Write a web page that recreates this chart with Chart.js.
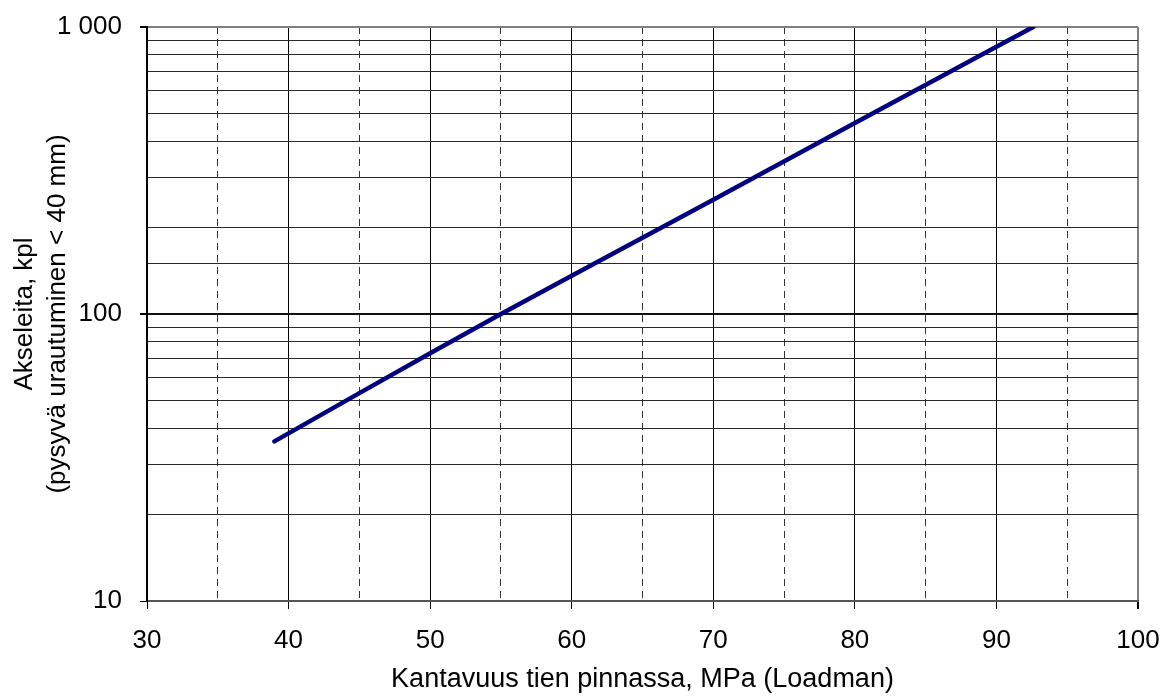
<!DOCTYPE html>
<html>
<head>
<meta charset="utf-8">
<script src="https://cdn.jsdelivr.net/npm/chart.js@4/dist/chart.umd.min.js"></script>
<style>
  body { margin: 0; background: #fff; }
  canvas { display: block; }
</style>
</head>
<body>
<canvas id="myChart" width="1162" height="700"></canvas>
<script>
// values
const bearingMPa = [39, 45, 50, 55, 60, 70, 80, 90, 92.6];
const axles = [36, 53, 73, 100, 136, 250, 463, 853, 1000];
const xTitle = 'Kantavuus tien pinnassa, MPa (Loadman)';
const yTitle = ['Akseleita, kpl', '(pysyvä urautuminen < 40 mm)'];
const yLabels = { 10: '10', 100: '100', 1000: '1 000' };

Chart.defaults.font.family = '"Liberation Sans", Arial, sans-serif';
Chart.defaults.color = '#000';

const ctx = document.getElementById('myChart').getContext('2d');

new Chart(ctx, {
  type: 'scatter',
  data: {
    datasets: [
      {
        data: bearingMPa.map((x, i) => ({ x: x, y: axles[i] })),
        showLine: true,
        borderColor: '#000080',
        borderWidth: 4.5,
        borderCapStyle: 'round',
        pointRadius: 0,
        tension: 0,
      },
    ],
  },
  options: {
    responsive: false,
    animation: false,
    devicePixelRatio: 1,
    layout: { padding: { left: 0, right: 24, top: 27, bottom: 0 } },
    plugins: { legend: { display: false }, tooltip: { enabled: false } },
    scales: {
      x: {
        type: 'linear',
        min: 30,
        max: 100,
        afterFit: (scale) => {
          scale.height = 99;
          scale.paddingLeft = 0;
          scale.paddingRight = 0;
        },
        ticks: {
          stepSize: 5,
          autoSkip: false,
          maxRotation: 0,
          padding: 16,
          font: { size: 26 },
          callback: (v) => (v % 10 === 0 ? String(v) : ''),
        },
        grid: {
          tickLength: 8,
          color: (c) => {
            const v = c.tick && c.tick.value;
            if (v === 100) return '#808080';
            return v % 10 === 0 ? '#000' : '#333';
          },
          lineWidth: (c) => (c.tick && c.tick.value === 100 ? 2 : 1),
          tickColor: (c) => (c.tick && c.tick.value % 10 === 0 ? '#000' : 'rgba(0,0,0,0)'),
        },
        border: {
          color: '#555',
          width: 2,
          dash: (c) => (c.tick && c.tick.value % 10 !== 0 ? [7, 5] : []),
        },
        title: {
          display: true,
          text: xTitle,
          font: { size: 27 },
          padding: { top: 0, bottom: 4 },
        },
      },
      y: {
        type: 'logarithmic',
        min: 10,
        max: 1000,
        afterFit: (scale) => {
          scale.width = 147;
          scale.paddingTop = 0;
          scale.paddingBottom = 0;
        },
        ticks: {
          autoSkip: false,
          padding: 18,
          font: { size: 26 },
          callback: (v) => yLabels[v] || '',
        },
        grid: {
          tickLength: 7,
          color: (c) => {
            const v = c.tick && c.tick.value;
            if (v === 1000) return '#808080';
            return v === 100 ? '#111' : '#2a2a2a';
          },
          lineWidth: (c) => {
            const v = c.tick && c.tick.value;
            return v === 100 || v === 1000 ? 2 : 1;
          },
          tickColor: (c) => (c.tick && yLabels[c.tick.value] ? '#000' : 'rgba(0,0,0,0)'),
        },
        border: { color: '#000', width: 2 },
        title: {
          display: true,
          text: yTitle,
          font: { size: 26, lineHeight: 1.27 },
          padding: { top: 8, bottom: 0 },
        },
      },
    },
  },
});
</script>
</body>
</html>
